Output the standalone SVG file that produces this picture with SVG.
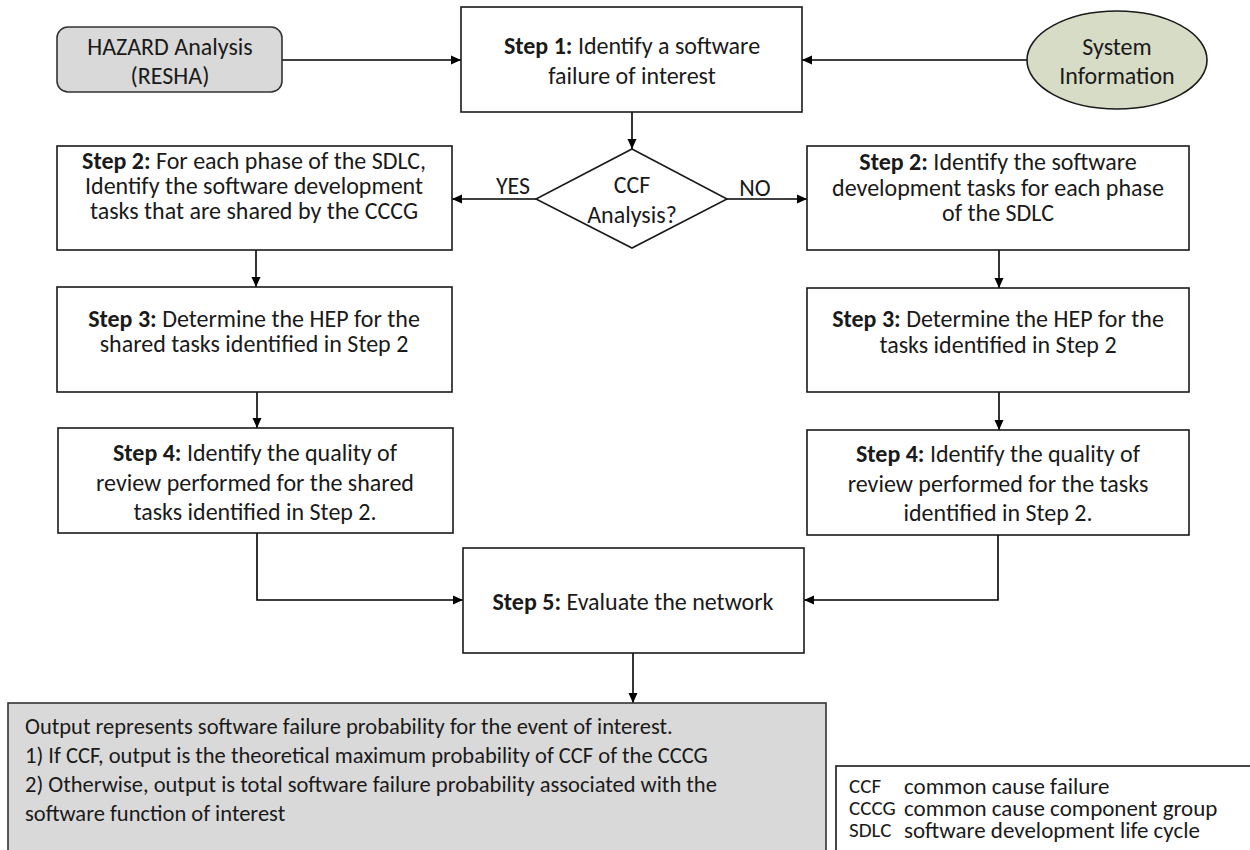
<svg xmlns="http://www.w3.org/2000/svg" width="1250" height="850" viewBox="0 0 1250 850">
  <defs>
    <marker id="arrow" viewBox="0 0 10 10" refX="10" refY="5" markerWidth="10" markerHeight="10" markerUnits="userSpaceOnUse" orient="auto">
      <path d="M0,0.5 L10,5 L0,9.5 Z" fill="#000"/>
    </marker>
    <style>
      text { font-family: Carlito, "Open Sans", "Liberation Sans", sans-serif; fill: #1a1a1a; }
      .box { fill: #fff; stroke: #1a1a1a; stroke-width: 1.6; }
      .t { font-size: 24px; text-anchor: middle; dominant-baseline: central; }
      .b { font-weight: bold; }
      .lbl { font-size: 24px; text-anchor: middle; dominant-baseline: central; }
      .out { font-size: 22.5px; dominant-baseline: central; }
      .abbr { font-size: 21px; dominant-baseline: central; }
      .def { font-size: 23px; dominant-baseline: central; }
      .conn { fill: none; stroke: #000; stroke-width: 1.6; marker-end: url(#arrow); }
    </style>
  </defs>

  <!-- connectors -->
  <g id="connectors">
    <line class="conn" x1="282" y1="60" x2="461" y2="60"/>
    <line class="conn" x1="1027" y1="60" x2="802" y2="60"/>
    <line class="conn" x1="632" y1="112" x2="632" y2="149"/>
    <line class="conn" x1="536" y1="199" x2="452" y2="199"/>
    <line class="conn" x1="727" y1="199" x2="807" y2="199"/>
    <line class="conn" x1="256" y1="250" x2="256" y2="287"/>
    <line class="conn" x1="257" y1="392" x2="257" y2="428"/>
    <line class="conn" x1="999" y1="250" x2="999" y2="288"/>
    <line class="conn" x1="999" y1="392" x2="999" y2="430"/>
    <polyline class="conn" points="257,533 257,600 463,600"/>
    <polyline class="conn" points="998,535 998,600 804,600"/>
    <line class="conn" x1="633" y1="653" x2="633" y2="703"/>
    <text class="lbl" x="513" y="185">YES</text>
    <text class="lbl" x="755" y="187">NO</text>
  </g>

  <!-- hazard analysis input -->
  <g id="hazard">
    <rect x="57" y="27" width="225" height="65" rx="11" ry="11" fill="#d9d9d9" stroke="#333" stroke-width="1.6"/>
    <text class="t" x="170" y="46">HAZARD Analysis</text>
    <text class="t" x="170" y="75">(RESHA)</text>
  </g>

  <!-- system information input -->
  <g id="system-info">
    <ellipse cx="1117" cy="60" rx="90" ry="49" fill="#d7dcc6" stroke="#1a1a1a" stroke-width="1.6"/>
    <text class="t" x="1117" y="46">System</text>
    <text class="t" x="1117" y="75">Information</text>
  </g>

  <!-- step 1 -->
  <g id="step1">
    <rect class="box" x="461" y="7" width="341" height="105"/>
    <text class="t" x="632" y="45"><tspan class="b">Step 1:</tspan> Identify a software</text>
    <text class="t" x="632" y="75">failure of interest</text>
  </g>

  <!-- decision -->
  <g id="decision">
    <polygon points="632,149 727,199 632,248 536,199" fill="#fff" stroke="#1a1a1a" stroke-width="1.6"/>
    <text class="t" x="632" y="184">CCF</text>
    <text class="t" x="632" y="214">Analysis?</text>
  </g>

  <!-- CCF branch -->
  <g id="step2-ccf">
    <rect class="box" x="57" y="146" width="395" height="104"/>
    <text class="t" x="254" y="160"><tspan class="b">Step 2:</tspan> For each phase of the SDLC,</text>
    <text class="t" x="254" y="185">Identify the software development</text>
    <text class="t" x="254" y="210">tasks that are shared by the CCCG</text>
  </g>
  <g id="step3-ccf">
    <rect class="box" x="57" y="287" width="395" height="105"/>
    <text class="t" x="254" y="318"><tspan class="b">Step 3:</tspan> Determine the HEP for the</text>
    <text class="t" x="254" y="343">shared tasks identified in Step 2</text>
  </g>
  <g id="step4-ccf">
    <rect class="box" x="58" y="428" width="395" height="105"/>
    <text class="t" x="255" y="452"><tspan class="b">Step 4:</tspan> Identify the quality of</text>
    <text class="t" x="255" y="482">review performed for the shared</text>
    <text class="t" x="255" y="511">tasks identified in Step 2.</text>
  </g>

  <!-- non-CCF branch -->
  <g id="step2-all">
    <rect class="box" x="807" y="146" width="382" height="104"/>
    <text class="t" x="998" y="161"><tspan class="b">Step 2:</tspan> Identify the software</text>
    <text class="t" x="998" y="187">development tasks for each phase</text>
    <text class="t" x="998" y="212">of the SDLC</text>
  </g>
  <g id="step3-all">
    <rect class="box" x="807" y="288" width="382" height="104"/>
    <text class="t" x="998" y="318"><tspan class="b">Step 3:</tspan> Determine the HEP for the</text>
    <text class="t" x="998" y="344">tasks identified in Step 2</text>
  </g>
  <g id="step4-all">
    <rect class="box" x="807" y="430" width="382" height="105"/>
    <text class="t" x="998" y="453"><tspan class="b">Step 4:</tspan> Identify the quality of</text>
    <text class="t" x="998" y="483">review performed for the tasks</text>
    <text class="t" x="998" y="512">identified in Step 2.</text>
  </g>

  <!-- step 5 -->
  <g id="step5">
    <rect class="box" x="463" y="548" width="341" height="105"/>
    <text class="t" x="633" y="601"><tspan class="b">Step 5:</tspan> Evaluate the network</text>
  </g>

  <!-- output -->
  <g id="output">
    <rect x="8" y="703" width="818" height="160" fill="#d9d9d9" stroke="#333" stroke-width="1.6"/>
    <text class="out" x="25" y="726">Output represents software failure probability for the event of interest.</text>
    <text class="out" x="25" y="755">1) If CCF, output is the theoretical maximum probability of CCF of the CCCG</text>
    <text class="out" x="25" y="784">2) Otherwise, output is total software failure probability associated with the</text>
    <text class="out" x="25" y="813">software function of interest</text>
  </g>

  <!-- legend -->
  <g id="legend">
    <rect x="836" y="766" width="430" height="100" fill="#fff" stroke="#1a1a1a" stroke-width="1.6"/>
    <text class="abbr" x="849" y="786">CCF</text>
    <text class="def" x="904" y="786">common cause failure</text>
    <text class="abbr" x="849" y="808">CCCG</text>
    <text class="def" x="904" y="808">common cause component group</text>
    <text class="abbr" x="849" y="830">SDLC</text>
    <text class="def" x="904" y="830">software development life cycle</text>
  </g>
</svg>
